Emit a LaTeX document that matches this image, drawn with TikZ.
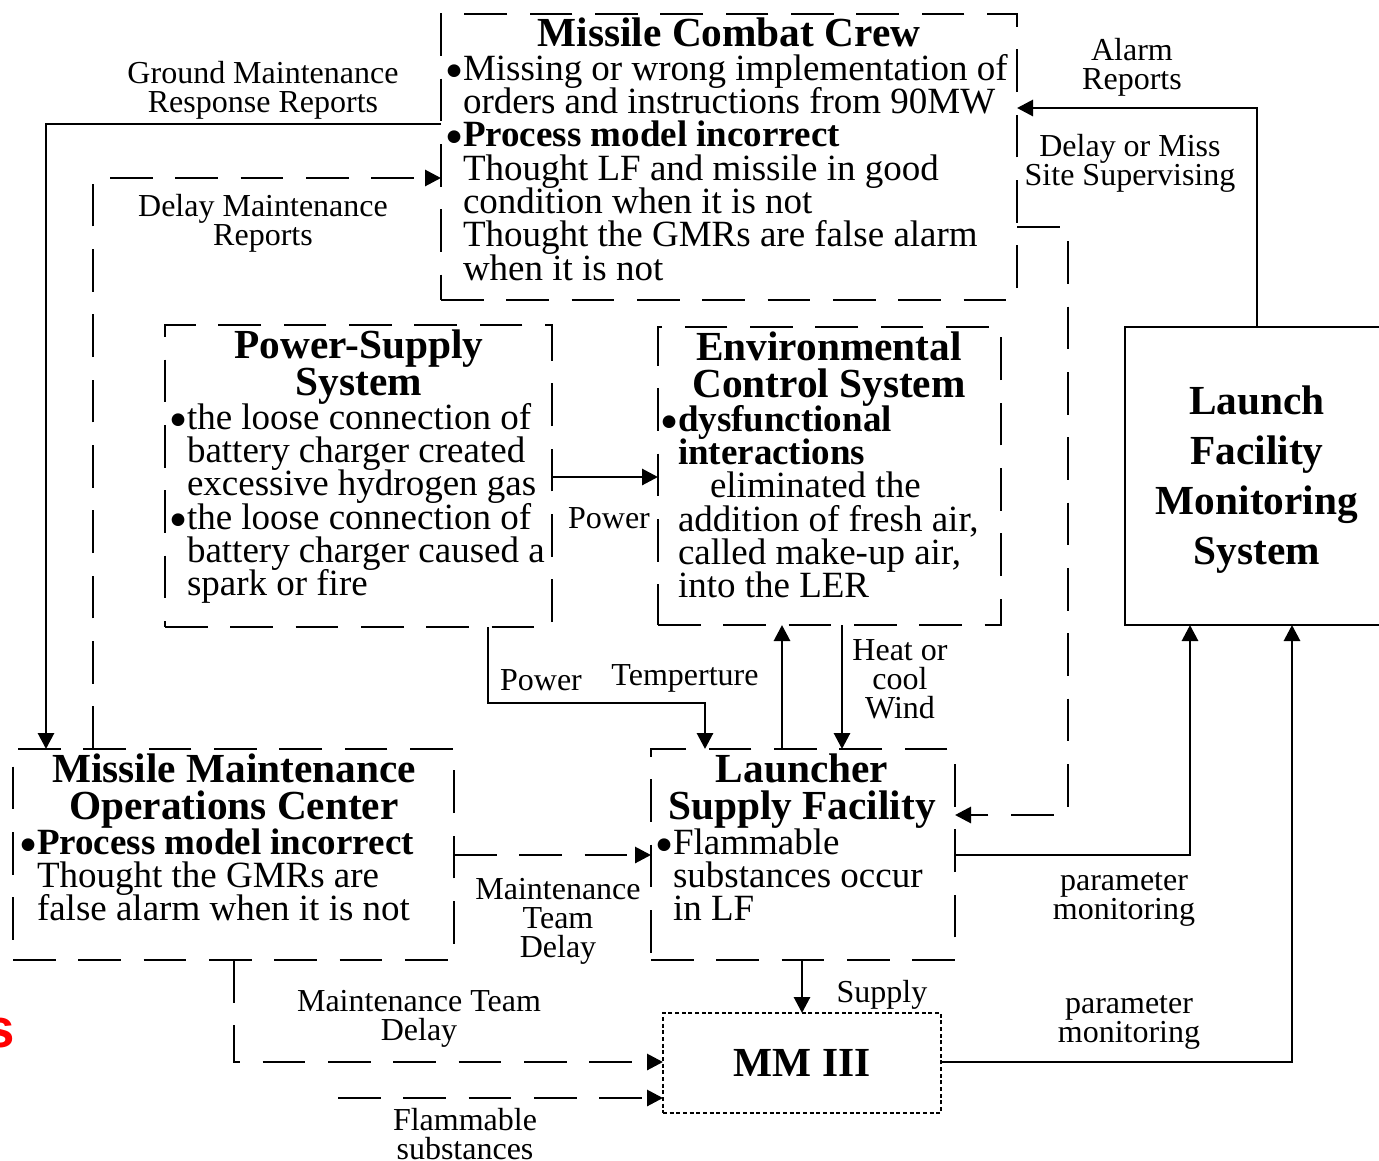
\documentclass[tikz,border=0pt]{standalone}
\usepackage{fontspec}
\setmainfont{Liberation Serif}
\newfontfamily\redsans{Liberation Sans}
\newfontfamily\symfont{DejaVu Sans}
\usetikzlibrary{arrows.meta}

% stacked lines with a fixed baseline distance; the first baseline is the box baseline
\newcommand\stk[2]{\vtop{#1\lineskiplimit=-1000pt\lineskip=0pt\relax#2}}
\newcommand\ctrln[1]{\hbox to 0pt{\hss#1\hss}}
\newcommand\leftln[1]{\hbox{#1}}
\newcommand\bodyfnt{\fontsize{27.75pt}{25pt}\selectfont}
\newcommand\headfnt{\fontsize{31pt}{27.75pt}\selectfont\bfseries}
\newcommand\lblfnt{\fontsize{24pt}{22pt}\selectfont}
\newcommand\lfmsfnt{\fontsize{31pt}{37.5pt}\selectfont\bfseries}
% hanging round bullet
\newcommand\bul{\llap{\raisebox{3.6pt}{\symfont\mdseries\fontsize{12.5pt}{12.5pt}\selectfont ●}\kern1.2pt}}

\begin{document}
\begin{tikzpicture}[x=0.75pt,y=-0.75pt,line width=2.2pt,
  box/.style={draw,rectangle,anchor=north west,inner sep=0pt,outer sep=0pt},
  dbox/.style={box,dash pattern=on 32pt off 17pt},
  dotbox/.style={box,line width=1.5pt,dash pattern=on 3pt off 2pt},
  wire/.style={-{Triangle[length=12pt,width=12pt]}},
  dwire/.style={wire,dash pattern=on 32pt off 17pt},
  txt/.style={inner sep=0pt,outer sep=0pt,anchor=base},
  txtl/.style={txt,anchor=base west}]
\useasboundingbox (0,0) rectangle (1379,1161);

% ---------- blocks ----------
\node[dbox,minimum width=576*0.75pt,minimum height=286*0.75pt] (mcc) at (441,14) {};
\node[dbox,minimum width=387*0.75pt,minimum height=302*0.75pt] (pss) at (165,325) {};
\node[dbox,minimum width=343*0.75pt,minimum height=298*0.75pt] (ecs) at (658,327) {};
\node[box,minimum width=270*0.75pt,minimum height=298*0.75pt] (lfms) at (1125,327) {};
\node[dbox,minimum width=441*0.75pt,minimum height=211*0.75pt] (mmoc) at (13,749) {};
\node[dbox,minimum width=304*0.75pt,minimum height=211*0.75pt] (lsf) at (651,749) {};
\node[dotbox,minimum width=278*0.75pt,minimum height=100*0.75pt] (mm3) at (663,1013) {};

% ---------- block texts ----------
\node[txt] (mcchead) at (729,46) {\stk{\headfnt}{\ctrln{Missile Combat Crew}}};
\node[txtl] (mccbody) at (463,80) {\stk{\bodyfnt}{%
  \leftln{\bul Missing or wrong implementation of}%
  \leftln{orders and instructions from 90MW}%
  \leftln{\bul\textbf{Process model incorrect}}%
  \leftln{Thought LF and missile in good}%
  \leftln{condition when it is not}%
  \leftln{Thought the GMRs are false alarm}%
  \leftln{when it is not}}};

\node[txt] (psshead) at (359,358) {\stk{\headfnt}{\ctrln{Power-Supply}\ctrln{System}}};
\node[txtl] (pssbody) at (187,429) {\stk{\bodyfnt}{%
  \leftln{\bul the loose connection of}%
  \leftln{battery charger created}%
  \leftln{excessive hydrogen gas}%
  \leftln{\bul the loose connection of}%
  \leftln{battery charger caused a}%
  \leftln{spark or fire}}};

\node[txt] (ecshead) at (829,360) {\stk{\headfnt}{\ctrln{Environmental}\ctrln{Control System}}};
\node[txtl] (ecsbody) at (678,431) {\stk{\bodyfnt}{%
  \leftln{\bul\textbf{dysfunctional}}%
  \leftln{\textbf{interactions}}%
  \leftln{\kern24pt eliminated the}%
  \leftln{addition of fresh air,}%
  \leftln{called make-up air,}%
  \leftln{into the LER}}};

\node[txt] (lfmshead) at (1257,414) {\stk{\lfmsfnt}{\ctrln{Launch}\ctrln{Facility}\ctrln{Monitoring}\ctrln{System}}};

\node[txt] (mmochead) at (234,782) {\stk{\headfnt}{\ctrln{Missile Maintenance}\ctrln{Operations Center}}};
\node[txtl] (mmocbody) at (37,854) {\stk{\bodyfnt}{%
  \leftln{\bul\textbf{Process model incorrect}}%
  \leftln{Thought the GMRs are}%
  \leftln{false alarm when it is not}}};

\node[txt] (lsfhead) at (802,782) {\stk{\headfnt}{\ctrln{Launcher}\ctrln{Supply Facility}}};
\node[txtl] (lsfbody) at (673,854) {\stk{\bodyfnt}{%
  \leftln{\bul Flammable}%
  \leftln{substances occur}%
  \leftln{in LF}}};

\node[txt] (mm3head) at (802,1076) {\stk{\headfnt}{\ctrln{MM III}}};

% ---------- connectors ----------
\draw[wire] (mcc.west |- 0,124) -| (mmoc.north -| 46,0);
\draw[dwire] (mmoc.north -| 93,0) |- (mcc.west |- 0,178);
\draw[wire] (lfms.north -| 1257,0) |- (mcc.east |- 0,108);
\coordinate (sitecorner) at (1068,815);
\draw[dwire] (mcc.east |- 0,227) -| (sitecorner) -- (lsf.east |- sitecorner);
\draw[wire] (pss.east |- 0,477) -- (ecs.west |- 0,477);
\coordinate (powerbend) at (705,703);
\draw[wire] (pss.south -| 488,0) |- (powerbend) -- (lsf.north -| powerbend);
\draw[wire] (lsf.north -| 782,0) -- (ecs.south -| 782,0);
\draw[wire] (ecs.south -| 842,0) -- (lsf.north -| 842,0);
\draw[dwire] (mmoc.east |- 0,855) -- (lsf.west |- 0,855);
\draw[wire] (lsf.east |- 0,855) -| (lfms.south -| 1190,0);
\draw[wire] (lsf.south -| 802,0) -- (mm3.north -| 802,0);
\draw[wire] (mm3.east |- 0,1062) -| (lfms.south -| 1292,0);
\draw[dwire] (mmoc.south -| 234,0) |- (mm3.west |- 0,1062);
\coordinate (flamsrc) at (338,1098);
\draw[dwire] (flamsrc) -- (mm3.west |- flamsrc);

% ---------- connector labels ----------
\node[txt] (lgmr) at (263,83) {\stk{\lblfnt}{\ctrln{Ground Maintenance}\ctrln{Response Reports}}};
\node[txt] (ldmr) at (263,216) {\stk{\lblfnt}{\ctrln{Delay Maintenance}\ctrln{Reports}}};
\node[txt] (lalarm) at (1132,60) {\stk{\lblfnt}{\ctrln{Alarm}\ctrln{Reports}}};
\node[txt] (ldelay) at (1130,156) {\stk{\lblfnt}{\ctrln{Delay or Miss}\ctrln{Site Supervising}}};
\node[txt] (lpow1) at (609,528) {\stk{\lblfnt}{\ctrln{Power}}};
\node[txt] (lpow2) at (541,690) {\stk{\lblfnt}{\ctrln{Power}}};
\node[txt] (ltemp) at (685,685) {\stk{\lblfnt}{\ctrln{Temperture}}};
\node[txt] (lheat) at (900,660) {\stk{\lblfnt}{\ctrln{Heat or}\ctrln{cool}\ctrln{Wind}}};
\node[txt] (lmtd1) at (558,899) {\stk{\lblfnt}{\ctrln{Maintenance}\ctrln{Team}\ctrln{Delay}}};
\node[txt] (lpar1) at (1124,890) {\stk{\lblfnt}{\ctrln{parameter}\ctrln{monitoring}}};
\node[txt] (lsup) at (882,1002) {\stk{\lblfnt}{\ctrln{Supply}}};
\node[txt] (lpar2) at (1129,1013) {\stk{\lblfnt}{\ctrln{parameter}\ctrln{monitoring}}};
\node[txt] (lmtd2) at (419,1011) {\stk{\lblfnt}{\ctrln{Maintenance Team}\ctrln{Delay}}};
\node[txt] (lflam) at (465,1130) {\stk{\lblfnt}{\ctrln{Flammable}\ctrln{substances}}};

\node[txt,anchor=base east,text=red] (reds) at (15,1047) {\redsans\bfseries\fontsize{41pt}{41pt}\selectfont s};
\end{tikzpicture}
\end{document}
